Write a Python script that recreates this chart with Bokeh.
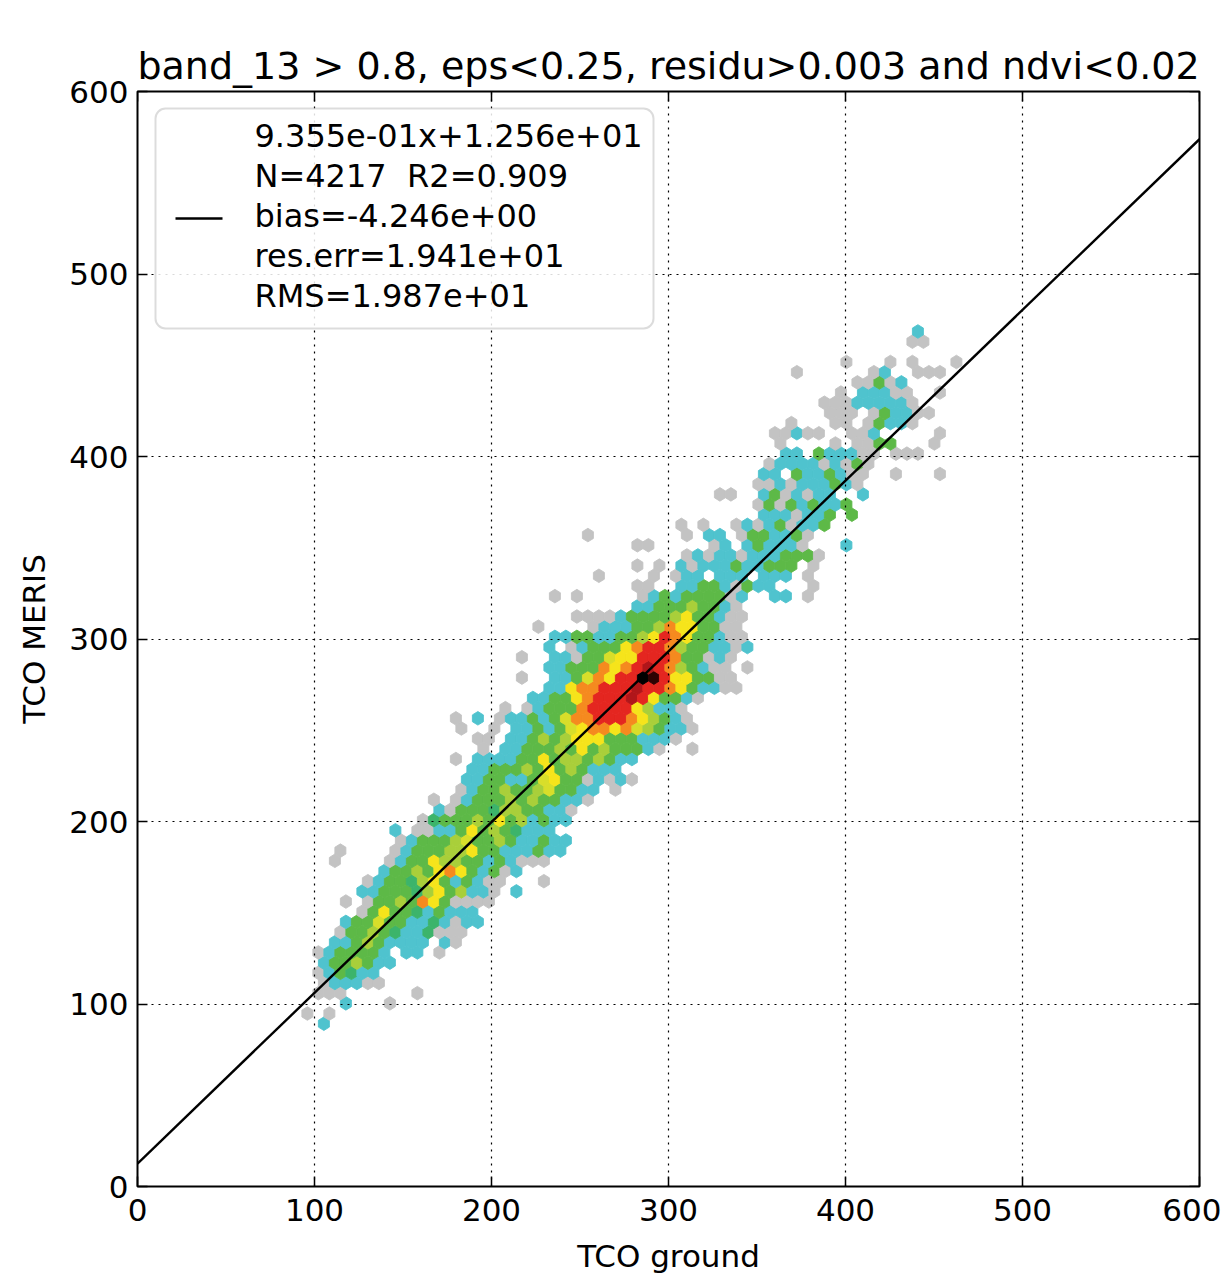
import numpy as np
from bokeh.plotting import figure
from bokeh.models import (Range1d, Label, BoxAnnotation, FixedTicker, ColumnDataSource)
from bokeh.embed import file_html
from bokeh.resources import INLINE

# ---------------- texts ----------------
title_text = "band_13 > 0.8, eps<0.25, residu>0.003 and ndvi<0.02"
x_label = "TCO ground"
y_label = "TCO MERIS"
axis_ticks = [0, 100, 200, 300, 400, 500, 600]

# ---------------- regression fit ----------------
fit_slope = 0.9355
fit_intercept = 12.56
legend_lines = ["9.355e-01x+1.256e+01", "N=4217\u00a0 R2=0.909", "bias=-4.246e+00",
                "res.err=1.941e+01", "RMS=1.987e+01"]

# ---------------- hexbin lattice (data units) ----------------
hex_x0 = 105.3     # centre of column 0 on even rows
hex_y0 = 89.2      # centre of row 0
hex_dx = 6.215     # column spacing
hex_dy = 5.578     # row spacing (odd rows shifted by half a column)

# count class of each hexagon, read row by row ('.' = empty bin)
hex_row = [0, 1, 2, 3, 4, 5, 6, 7, 8, 9, 10, 11, 12, 13, 14, 15, 16, 17, 18, 19,
           20, 21, 22, 23, 24, 25, 26, 27, 28, 29, 30, 31, 32, 33, 34, 35, 36, 37,
           38, 39, 40, 41, 42, 43, 44, 45, 46, 47, 48, 49, 50, 51, 52, 53, 54, 55,
           56, 57, 58, 59, 60, 61, 62, 63, 64, 65, 67, 68]
hex_first = [0, -2, 2, -1, 0, -1, 0, -1, 1, 1, 2, 3, 2, 3, 4, 5, 1, 1, 7, 6,
             9, 10, 10, 12, 13, 13, 12, 14, 14, 12, 12, 16, 19, 20, 18, 20, 18, 20,
             21, 19, 23, 28, 21, 28, 25, 28, 33, 28, 24, 32, 40, 39, 36, 39, 40, 40,
             42, 41, 41, 42, 46, 45, 47, 48, 43, 47, 53, 54]
hex_levels = [
    "2",
    "1.1",
    "2...1",
    "111......1",
    "122211",
    "124322",
    "2445422",
    "1244442.22.1",
    "224542222.21",
    "144543223111",
    "2446442232122",
    "14744324222",
    "1.144548741111",
    "2244435745221.2",
    "1244357424211...1",
    "2445478742412",
    "1....124475544242111",
    "1....1244455744222422",
    "1244456445422422",
    "2.1122474543222",
    "13444547452422",
    "2144435544221",
    "1.1244454544221",
    "1244544564422.1",
    "2244224674412121",
    "22444547454222",
    "1.222244745545422",
    "1.224445474544421..1",
    "11.2245457774442221",
    "1..1.22424678878654221",
    "1.2.122424688999875421",
    "1.124448999975221",
    "224478999a974421",
    "22788999a998742211",
    "1..22468799bc9774411",
    "224448789a9854211.1",
    "1..22144677999844121",
    "2.12444789985442212",
    "224422445798744211",
    "1....12224458774411",
    "1111244445744211",
    "2244454421",
    "1.1.....1242444412..22.1",
    "11..224421422...1",
    "1....1.122.222.222.1",
    "1.1.21222422444.1",
    "1212212224441",
    "11.....12.242221...2",
    "1........1.22.1442241",
    "1.1..121241224",
    "2221224.4",
    "141424224",
    "11..2412122..2",
    "1121222421",
    "22.4224211..1...1",
    "1222212141",
    "22.422211.111",
    "1....1.1144...1",
    "11211..112.....1",
    "1...11.14221",
    "111.142211",
    "111222221",
    "1.22211..1",
    "11412",
    "1......12..111",
    "1...1.1...1",
    "11",
    "2",
]

level_colors = {
    "1": "#c3c3c3", "2": "#4fc3ce", "3": "#3cb46b", "4": "#5db947",
    "5": "#a9cf3a", "6": "#d8de2a", "7": "#f6e41b", "8": "#f58a1f",
    "9": "#e42620", "a": "#b0161a", "b": "#000000", "c": "#2e0303",
}

# ---------------- build hexagons ----------------
hx_off = np.array([0.5, 0.5, 0.0, -0.5, -0.5, 0.0]) * hex_dx
hy_off = np.array([-1 / 6, 1 / 6, 1 / 3, 1 / 6, -1 / 6, -1 / 3]) * (2 * hex_dy)
xs, ys, cols = [], [], []
for j, first, levels in zip(hex_row, hex_first, hex_levels):
    for k, ch in enumerate(levels):
        if ch == ".":
            continue
        i = first + k
        cx = hex_x0 + hex_dx * (i + 0.5 * (j % 2))
        cy = hex_y0 + hex_dy * j
        xs.append(list(cx + hx_off))
        ys.append(list(cy + hy_off))
        cols.append(level_colors[ch])
hex_src = ColumnDataSource(dict(xs=xs, ys=ys, color=cols))

FONT = "DejaVu Sans"

p = figure(width=1221, height=1279, x_range=Range1d(0, 600), y_range=Range1d(0, 600),
           output_backend="svg", toolbar_location=None, title=title_text,
           min_border_left=137, min_border_right=22, min_border_top=91,
           min_border_bottom=93, background_fill_color="white",
           border_fill_color="white")
p.title.text_font = FONT
p.title.text_font_size = "38px"
p.title.text_font_style = "normal"
p.title.text_color = "black"
p.title.align = "center"
p.title.standoff = 8
p.outline_line_color = "black"
p.outline_line_width = 2
p.outline_line_alpha = 1

for ax in (p.xaxis[0], p.yaxis[0]):
    ax.ticker = FixedTicker(ticks=axis_ticks)
    ax.major_label_text_font = FONT
    ax.major_label_text_font_size = "31px"
    ax.major_label_text_color = "black"
    ax.major_tick_in = 10
    ax.major_tick_out = 0
    ax.major_tick_line_color = "black"
    ax.major_tick_line_width = 1.5
    ax.minor_tick_line_color = None
    ax.axis_line_color = None
    ax.axis_label_text_font = FONT
    ax.axis_label_text_font_size = "31px"
    ax.axis_label_text_font_style = "normal"
    ax.axis_label_text_color = "black"
p.xaxis[0].axis_label = x_label
p.xaxis[0].major_label_standoff = 12
p.xaxis[0].axis_label_standoff = 14
p.yaxis[0].axis_label = y_label
p.yaxis[0].major_label_standoff = 9
p.yaxis[0].axis_label_standoff = 14

p.grid.grid_line_color = "black"
p.grid.grid_line_dash = "2 5"
p.grid.grid_line_width = 1.2
p.grid.level = "guide"

p.patches(xs="xs", ys="ys", fill_color="color", line_color="color", line_width=0.9,
          source=hex_src)

fit_x = np.array([0.0, 600.0])
p.line(fit_x, fit_slope * fit_x + fit_intercept, line_color="black", line_width=2.4)

# inward ticks on the top and right frame edges (10 px long)
tick_arr = np.array(axis_ticks, dtype=float)
tick_len_y = 10 / 1.825
tick_len_x = 10 / 1.77
p.segment(x0=tick_arr, y0=np.full_like(tick_arr, 600.0), x1=tick_arr,
          y1=np.full_like(tick_arr, 600.0 - tick_len_y), line_color="black", line_width=1.5)
p.segment(x0=np.full_like(tick_arr, 600.0), y0=tick_arr,
          x1=np.full_like(tick_arr, 600.0 - tick_len_x), y1=tick_arr,
          line_color="black", line_width=1.5)

# ---------------- legend box ----------------
px_to_x = lambda px: (px - 137) / 1.77
py_to_y = lambda py: (1186 - py) / 1.825
box = BoxAnnotation(left=px_to_x(155), right=px_to_x(653), top=py_to_y(108),
                    bottom=py_to_y(328), fill_color="white", fill_alpha=0.85,
                    line_color="#8c8c8c", line_width=2, border_radius=10)
p.add_layout(box)
sample = p.line([px_to_x(175), px_to_x(222)], [py_to_y(218), py_to_y(218)],
                line_color="black", line_width=2.4)
sample.level = "overlay"
for k, t in enumerate(legend_lines):
    p.add_layout(Label(x=px_to_x(254), y=py_to_y(135 + 40 * k), text=t,
                       text_font=FONT, text_font_size="32px", text_baseline="middle",
                       text_color="black", level="overlay"))

open("out.html", "w").write(file_html(p, INLINE))
